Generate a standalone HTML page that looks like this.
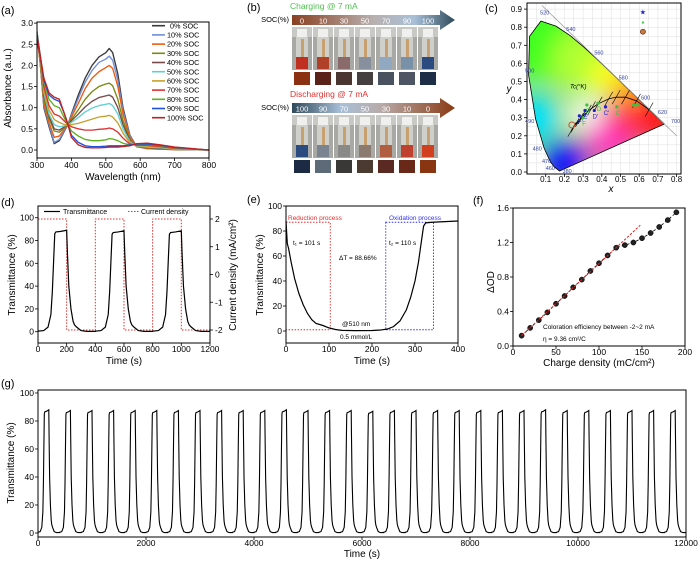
<!DOCTYPE html>
<html><head><meta charset="utf-8">
<style>
html,body{margin:0;padding:0;background:#fff;}
svg{display:block;font-family:"Liberation Sans",Arial,sans-serif;}
</style></head>
<body>
<svg id="fig" width="700" height="561" viewBox="0 0 700 561" xmlns="http://www.w3.org/2000/svg">
<defs>
<linearGradient id="gCharge" x1="0" x2="1" y1="0" y2="0">
<stop offset="0" stop-color="#8a4020"/><stop offset="0.5" stop-color="#b8b0b0"/><stop offset="0.75" stop-color="#a8c0d8"/><stop offset="1" stop-color="#2f4a5a"/></linearGradient>
<linearGradient id="gDis" x1="0" x2="1" y1="0" y2="0">
<stop offset="0" stop-color="#2f4a5a"/><stop offset="0.3" stop-color="#a8c0d8"/><stop offset="0.55" stop-color="#b8aaa8"/><stop offset="1" stop-color="#8a3a12"/></linearGradient>
<filter id="blur" x="-50%" y="-50%" width="200%" height="200%"><feGaussianBlur stdDeviation="12"/></filter>
<clipPath id="locusClip"><path id="locusClipPath" d=""/></clipPath>
</defs>
</svg>
<script>
// ---------- DATA ----------
const wl = [300,310,320,335,350,365,380,390,400,420,440,460,480,500,510,520,535,550,570,590,620,660,700,800];
const socLabels = ['0% SOC','10% SOC','20% SOC','30% SOC','40% SOC','50% SOC','60% SOC','70% SOC','80% SOC','90% SOC','100% SOC'];
const soc0 = [2.8,2.0,1.0,0.55,0.15,0.22,0.45,0.6,0.85,1.3,1.7,2.0,2.2,2.3,2.4,2.3,1.8,1.0,0.35,0.08,0.03,0.02,0.01,0];
const soc10 = [2.8,2.0,1.05,0.6,0.18,0.25,0.47,0.6,0.82,1.22,1.6,1.88,2.07,2.15,2.22,2.12,1.65,0.93,0.33,0.08,0.03,0.02,0.01,0];
const soc20 = [2.75,2.0,1.1,0.65,0.3,0.33,0.5,0.6,0.78,1.1,1.45,1.7,1.85,1.95,2.0,1.93,1.5,0.85,0.3,0.08,0.04,0.03,0.01,0];
const soc30 = [2.7,2.0,1.2,0.75,0.45,0.42,0.53,0.6,0.72,0.95,1.2,1.38,1.5,1.56,1.58,1.52,1.2,0.7,0.25,0.08,0.05,0.03,0.01,0];
const soc40 = [2.7,2.1,1.3,0.8,0.5,0.47,0.55,0.6,0.69,0.85,1.02,1.15,1.24,1.28,1.3,1.25,1.0,0.6,0.22,0.08,0.06,0.04,0.015,0];
const soc50 = [2.7,2.1,1.35,0.85,0.6,0.55,0.57,0.6,0.65,0.77,0.9,0.99,1.05,1.08,1.1,1.05,0.85,0.5,0.2,0.09,0.07,0.05,0.02,0];
const soc60 = [2.65,2.1,1.4,0.95,0.72,0.65,0.6,0.6,0.6,0.63,0.68,0.73,0.78,0.8,0.82,0.78,0.64,0.4,0.17,0.1,0.09,0.06,0.03,0];
const soc70 = [2.6,2.15,1.5,1.05,0.85,0.8,0.68,0.6,0.55,0.5,0.47,0.47,0.49,0.5,0.52,0.5,0.42,0.28,0.14,0.11,0.11,0.08,0.04,0];
const soc80 = [2.8,2.2,1.6,1.2,1.05,1.0,0.75,0.6,0.45,0.33,0.25,0.22,0.22,0.24,0.27,0.26,0.22,0.16,0.12,0.13,0.13,0.1,0.05,0];
const soc90 = [2.75,2.2,1.65,1.3,1.2,1.15,0.85,0.6,0.35,0.18,0.1,0.08,0.08,0.09,0.1,0.1,0.1,0.1,0.12,0.14,0.14,0.11,0.06,0];
const soc100 = [2.7,2.2,1.7,1.35,1.25,1.2,0.85,0.6,0.3,0.12,0.06,0.05,0.05,0.06,0.07,0.07,0.07,0.08,0.1,0.15,0.16,0.12,0.07,0];
const socColors = ['#3a3a3a','#6f8fd8','#f05a10','#7a8a10','#7a4a4a','#60d0d0','#c8a030','#e03030','#60b020','#2050e0','#c02020'];

// panel d: one cycle template (time within cycle, transmittance)
const cycT = [0,40,70,90,100,110,117,125,160,200,205,215,230,245,255,270,300,340,400];
const cycV = [0.5,1,4,15,35,65,86,87.5,88,89,70,40,20,9,6,4,1,0.3,0.3];
const dCycleStarts = [0,400,800];
const dPeaks = [89,88.5,88.5];
const curT = [0,200,200,400,400,600,600,800,800,1000,1000,1200];
const curV = [2,2,-2,-2,2,2,-2,-2,2,2,-2,-2];

// panel e
const eT = [0,3,6,12,20,30,40,50,60,70,85,100,115,130,160,200,220,235,250,265,280,290,300,308,315,320,325,340,370,400];
const eV = [88,70,66,55,42,30,21,14,9,6,4.5,2.5,1.2,0.5,0.3,0.4,0.8,1.5,3.5,8,17,27,40,55,72,84,86.5,87,87.5,88];

// panel f
const fX = [10,20,30,40,50,60,70,80,90,100,110,120,130,140,150,160,170,180,190];
const fY = [0.12,0.21,0.30,0.39,0.49,0.58,0.68,0.77,0.87,0.96,1.05,1.14,1.17,1.20,1.25,1.31,1.38,1.46,1.55];
const fitX = [10,148];
const fitY = [0.12,1.40];

// panel g: 30 cycles
const gCycleStarts = [0,400,800,1200,1600,2000,2400,2800,3200,3600,4000,4400,4800,5200,5600,6000,6400,6800,7200,7600,8000,8400,8800,9200,9600,10000,10400,10800,11200,11600];
const gPeaks = [88,87.5,87.5,87.5,87.5,87.5,87.5,87.5,87.5,87.5,87.5,88,87.5,87.5,87.5,87,87.5,87.5,87.5,87.5,87.5,87.5,87.5,88,87.5,87.5,87.5,87.5,87.5,87.5];

// panel c (CIE)
const locusX = [0.1741,0.1440,0.1241,0.0913,0.0454,0.0082,0.0139,0.0743,0.1547,0.2296,0.3016,0.3731,0.4441,0.5125,0.5752,0.6270,0.6915,0.7347];
const locusY = [0.0050,0.0297,0.0578,0.1327,0.2950,0.5384,0.7502,0.8338,0.8059,0.7543,0.6923,0.6245,0.5547,0.4866,0.4242,0.3725,0.3083,0.2653];
const planckX = [0.6528,0.5857,0.5267,0.4770,0.4369,0.3805,0.3451,0.3221,0.2952,0.2807,0.2565,0.2399];
const planckY = [0.3444,0.3931,0.4133,0.4137,0.4041,0.3768,0.3516,0.3318,0.3048,0.2883,0.2577,0.2342];

// panel b swatches
const chargeNums = ['0','10','30','50','70','90','100'];
const chargeSw = ['#8b3010','#5a2218','#4a3530','#45403f','#4a5260','#4e5666','#1f2e47'];
const chargeLiq = ['#c03020','#b04028','#8a6a6a','#8890a0','#90a8c0','#7890a8','#2a4a80'];
const disNums = ['100','90','70','50','30','10','0'];
const disSw = ['#1d2a44','#5d6a78','#3a3836','#4a3a30','#5a2a22','#6a2818','#8a3512'];
const disLiq = ['#2a4a80','#7a8490','#8a8a88','#8a7a70','#b06040','#c04030','#d04020'];

// ---------- HELPERS ----------
const NS='http://www.w3.org/2000/svg';
const svg=document.getElementById('fig');
function el(tag,attrs,parent){const e=document.createElementNS(NS,tag);for(const k in attrs)e.setAttribute(k,attrs[k]);(parent||svg).appendChild(e);return e;}
function tx(x,y,s,size,anchor,parent,extra){const t=el('text',Object.assign({x:x,y:y,'font-size':size,'text-anchor':anchor||'start',fill:'#000'},extra||{}),parent);t.textContent=s;return t;}
function grp(name){const g=el('g',{});return g;}
function poly(xs,ys,fx,fy){return xs.map((v,i)=>(i?'L':'M')+fx(v).toFixed(2)+','+fy(ys[i]).toFixed(2)).join('');}
function frame(g,L,T,R,B){const r=el('rect',{x:L,y:T,width:R-L,height:B-T,fill:'none',stroke:'#000','stroke-width':1},g);}
function xTicks(g,vals,fx,B,ly,size){vals.forEach(v=>{const x=fx(v);const l=el('line',{x1:x,x2:x,y1:B,y2:B+3,stroke:'#000','stroke-width':0.8},g);const t=tx(x,ly,String(v),size||8.5,'middle',g);});}
function yTicks(g,vals,labels,fy,L,lx,size){vals.forEach((v,i)=>{const y=fy(v);const l=el('line',{x1:L-3,x2:L,y1:y,y2:y,stroke:'#000','stroke-width':0.8},g);const t=tx(lx,y+3,labels[i],size||8.5,'end',g);});}
function vTitle(g,x,y,s,size){const t=tx(0,0,s,size||10,'middle',g,{transform:'translate('+x+','+y+') rotate(-90)'});return t;}
function panelLabel(x,y,s){const t=tx(x,y,s,11,'start');}

// ---------- PANEL A ----------
(function(){
const g=grp('panel-a-absorbance');
const L=37,R=209,T=22,B=158;
const fx=v=>L+(v-300)*(R-L)/500, fy=v=>150-v*42.3;
const series=[soc0,soc10,soc20,soc30,soc40,soc50,soc60,soc70,soc80,soc90,soc100];
const clip=el('clipPath',{id:'clipA'},g);el('rect',{x:L,y:T,width:R-L,height:B-T},clip);
const cg=el('g',{'clip-path':'url(#clipA)'},g);
series.forEach((s,i)=>{const p=el('path',{d:poly(wl,s,fx,fy),fill:'none',stroke:socColors[i],'stroke-width':1.35,'stroke-linejoin':'round'},cg);});
frame(g,L,T,R,B);
xTicks(g,[300,400,500,600,700,800],fx,B,168);
yTicks(g,[0,0.5,1,1.5,2,2.5,3],['0.0','0.5','1.0','1.5','2.0','2.5','3.0'],fy,L,33);
const xt=tx((L+R)/2,180,'Wavelength (nm)',10,'middle',g);
vTitle(g,11,88,'Absorbance (a.u.)');
socLabels.forEach((s,i)=>{const y=25.7+9.2*i;const lg=el('g',{},g);el('line',{x1:152,x2:165,y1:y,y2:y,stroke:socColors[i],'stroke-width':1.6},lg);tx(i==0?170:167,y+2.6,s,7.3,'start',lg);});
})();
panelLabel(1,14,'(a)');

// ---------- PANEL B ----------
(function(){
const g=grp('panel-b-photos');
const cols=[292,313,334,355,376,397,418];
function row(y0,title,titleColor,grad,nums,liq,sw,prefix){
 const t=tx(290,y0+4,title,8.5,'start',g,{fill:titleColor});
 const s=tx(289,y0+17,'SOC(%)',7.5,'end',g);
 const ar=el('path',{d:'M292,'+(y0+10)+'H440V'+(y0+5)+'L455,'+(y0+15)+'L440,'+(y0+25)+'V'+(y0+20)+'H292Z',fill:'url(#'+grad+')'},g);
 nums.forEach((n,i)=>{tx(cols[i]+10,y0+18.5,n,7.5,'middle',g,{fill:'#fff'});});
 const py=y0+22, ph=43;
 cols.forEach((x,i)=>{const pg=el('g',{},g);
  el('rect',{x:x,y:py,width:20,height:ph,fill:'#a8a8a4'},pg);
  el('rect',{x:x,y:py,width:20,height:10,fill:'#c8c8c4'},pg);
  el('rect',{x:x+5,y:py+2,width:10,height:8,fill:'#f0f0ee'},pg);
  el('rect',{x:x+4,y:py+10,width:12,height:32,fill:'#d8d8d6',opacity:0.8},pg);
  el('rect',{x:x+9,y:py+12,width:3,height:24,fill:'#c8a070'},pg);
  el('rect',{x:x+4,y:py+30,width:12,height:12,fill:liq[i]},pg);
  const sq=el('rect',{x:x+2,y:y0+67,width:16,height:13,fill:sw[i]},g);});
}
row(5,'Charging @ 7 mA','#50c050','gCharge',chargeNums,chargeLiq,chargeSw,'charging');
row(93,'Discharging @ 7 mA','#e03030','gDis',disNums,disLiq,disSw,'discharging');
})();
panelLabel(247,11,'(b)');

// ---------- PANEL C ----------
(function(){
const g=grp('panel-c-cie');
const fx=v=>527+v*187, fy=v=>172-v*181;
const L=527,R=681,T=3,B=174;
for(let v=0.05;v<0.82;v+=0.05){el('line',{x1:fx(v),x2:fx(v),y1:T,y2:B,stroke:'#ddd','stroke-width':0.5},g);}
for(let v=0.05;v<0.93;v+=0.05){el('line',{x1:L,x2:R,y1:fy(v),y2:fy(v),stroke:'#ddd','stroke-width':0.5},g);}
const d=poly(locusX,locusY,fx,fy)+'Z';
document.getElementById('locusClipPath').setAttribute('d',d);
const cg=el('g',{'clip-path':'url(#locusClip)'},g);
el('rect',{x:520,y:0,width:170,height:180,fill:'#a0e070'},cg);
const blobs=[[0.08,0.75,45,'#40ff20'],[0.3,0.62,32,'#b0ff30'],[0.45,0.52,22,'#ffff20'],[0.55,0.42,20,'#ff9a10'],[0.68,0.3,26,'#ff0a0a'],[0.45,0.2,28,'#ff30c0'],[0.2,0.05,24,'#1010ff'],[0.05,0.3,24,'#00e0ff'],[0.31,0.32,16,'#ffffff'],[0.55,0.28,16,'#ff3040']];
const bg=el('g',{filter:'url(#blur)'},cg);
blobs.forEach(b=>el('circle',{cx:fx(b[0]),cy:fy(b[1]),r:b[2],fill:b[3]},bg));
const lo=el('path',{d:d,fill:'none',stroke:'#000','stroke-width':0.8},g);
el('line',{x1:fx(0.08),y1:fy(0.92),x2:fx(0.8),y2:fy(0.2),stroke:'#999','stroke-width':0.7},g);
const pl=el('path',{d:poly(planckX,planckY,fx,fy),fill:'none',stroke:'#000','stroke-width':0.8},g);
planckX.forEach((x,i)=>{el('line',{x1:fx(x)-4,y1:fy(planckY[i])+7,x2:fx(x)+4,y2:fy(planckY[i])-7,stroke:'#000','stroke-width':0.6},g);});
frame(g,L,T,R,B);
xTicks(g,[0.1,0.2,0.3,0.4,0.5,0.6,0.7,0.8],fx,B,182,8);
yTicks(g,[0,0.1,0.2,0.3,0.4,0.5,0.6,0.7,0.8,0.9],['0.0','0.1','0.2','0.3','0.4','0.5','0.6','0.7','0.8','0.9'],fy,L,522,8);
tx(611,192,'x',10,'middle',g,{'font-style':'italic'});
tx(509,92,'y',10,'middle',g,{'font-style':'italic'});
const wls=[['520',0.07,0.87],['540',0.21,0.78],['560',0.36,0.65],['580',0.49,0.51],['600',0.61,0.4],['620',0.7,0.32],['700',0.77,0.27],['500',-0.01,0.55],['490',-0.01,0.27],['480',0.03,0.12],['470',0.08,0.05],['460',0.1,0.01],['380',0.19,-0.005]];
wls.forEach(w=>{const t=tx(fx(w[1]),fy(w[2]),w[0],5.5,'start',g,{fill:'#3040a0'});});
tx(fx(0.23),fy(0.46),'Tc(°K)',6,'start',g,{'font-style':'italic'});
const pts=[['A',0.59,0.37,'#40c040'],['B',0.57,0.37,'#40c040'],['C',0.48,0.36,'#40c040'],["C'",0.42,0.36,'#2020d0'],["D'",0.36,0.34,'#2020d0'],['D',0.38,0.38,'#40c040'],['E',0.32,0.37,'#40c040'],["E'",0.31,0.34,'#2020d0'],["F'",0.28,0.31,'#2020d0'],['F',0.3,0.3,'#40c040']];
pts.forEach(p=>{const m=el('circle',{cx:fx(p[1]),cy:fy(p[2]),r:1.6,fill:p[3]},g);tx(fx(p[1])+1,fy(p[2])+8,p[0],6,'middle',g,{fill:p[0].includes("'")?'#2020d0':(p[0]=='A'||p[0]=='B'?'#ff6040':'#40c040')});});
el('circle',{cx:fx(0.24),cy:fy(0.26),r:3,fill:'none',stroke:'#c05030','stroke-width':1},g);
tx(fx(0.62),fy(0.87),'★',7,'middle',g,{fill:'#2020c0'});
tx(fx(0.62),fy(0.82),'▲',5,'middle',g,{fill:'#40c040'});
el('circle',{cx:fx(0.62),cy:fy(0.775),r:2.5,fill:'#c08040',stroke:'#803020','stroke-width':0.8},g);
})();
panelLabel(485,12,'(c)');

// ---------- PANEL D ----------
(function(){
const g=grp('panel-d-transmittance-current');
const L=38,R=210,T=206,B=343;
const fx=t=>L+t*0.1433, fy=v=>331.7-v*1.14, fc=c=>274.5-c*27.75;
let xs=[],ys=[];
dCycleStarts.forEach((s,k)=>{cycT.forEach((t,i)=>{xs.push(s+t);ys.push(cycV[i]>80?cycV[i]-89+dPeaks[k]:cycV[i]);});});
const cur=el('path',{d:poly(curT,curV,fx,fc),fill:'none',stroke:'#e03030','stroke-width':1,'stroke-dasharray':'1.5,1.5'},g);
const p=el('path',{d:poly(xs,ys,fx,fy),fill:'none',stroke:'#000','stroke-width':1.2},g);
frame(g,L,T,R,B);
xTicks(g,[0,200,400,600,800,1000,1200],fx,B,352);
yTicks(g,[0,20,40,60,80,100],['0','20','40','60','80','100'],fy,L,34);
[-2,-1,0,1,2].forEach(c=>{el('line',{x1:R,x2:R+3,y1:fc(c),y2:fc(c),stroke:'#000','stroke-width':0.8},g);const t=tx(R+5,fc(c)+3,String(c),8.5,'start',g);});
const xt=tx((L+R)/2,364,'Time (s)',10,'middle',g);
vTitle(g,15,275,'Transmittance (%)');
const rt=tx(0,0,'Current density (mA/cm²)',10,'middle',g,{transform:'translate(236,275) rotate(-90)'});
const lg=el('g',{},g);
el('line',{x1:44,x2:60,y1:211.5,y2:211.5,stroke:'#000','stroke-width':1.2},lg);tx(63,214,'Transmittance',7,'start',lg);
el('line',{x1:128,x2:140,y1:211.5,y2:211.5,stroke:'#e03030','stroke-width':1,'stroke-dasharray':'1.5,1.5'},lg);tx(141,214,'Current density',7,'start',lg);
})();
panelLabel(1,206,'(d)');

// ---------- PANEL E ----------
(function(){
const g=grp('panel-e-switching');
const L=286,R=458,T=206,B=343;
const fx=t=>L+t*0.43, fy=v=>331-v*1.25;
const r1=el('rect',{x:fx(0),y:fy(87),width:fx(103)-fx(0),height:fy(1)-fy(87),fill:'none',stroke:'#e03030','stroke-width':0.9,'stroke-dasharray':'1.5,1.5'},g);
const r2=el('rect',{x:fx(232),y:fy(87),width:fx(343)-fx(232),height:fy(1)-fy(87),fill:'none',stroke:'#3030f0','stroke-width':0.9,'stroke-dasharray':'1.5,1.5'},g);
const p=el('path',{d:poly(eT,eV,fx,fy),fill:'none',stroke:'#000','stroke-width':1.2},g);
frame(g,L,T,R,B);
xTicks(g,[0,100,200,300,400],fx,B,352);
yTicks(g,[0,20,40,60,80,100],['0','20','40','60','80','100'],fy,L,282);
const xt=tx((L+R)/2,364,'Time (s)',10,'middle',g);
vTitle(g,263,275,'Transmittance (%)');
tx(288,220,'Reduction  process',6.5,'start',g,{fill:'#e03030'});
tx(389,220,'Oxidation process',6.5,'start',g,{fill:'#3030f0'});
tx(293,245,'t₁ = 101 s',6.5,'start',g);
tx(389,245,'t₂ = 110 s',6.5,'start',g);
tx(339,260,'ΔT = 88.66%',6.5,'start',g);
tx(342,326,'@510 nm',6.5,'start',g);
tx(340,339,'0.5 mmol/L',6.5,'start',g);
})();
panelLabel(247,203,'(e)');

// ---------- PANEL F ----------
(function(){
const g=grp('panel-f-coloration');
const L=513,R=685,T=208,B=346;
const fx=v=>L+v*0.86, fy=v=>B-v*86.25;
const ln=el('path',{d:poly(fX,fY,fx,fy),fill:'none',stroke:'#000','stroke-width':0.8,'stroke-dasharray':'3,2'},g);
fX.forEach((x,i)=>{const c=el('circle',{cx:fx(x),cy:fy(fY[i]),r:2.6,fill:'#222',stroke:'#000','stroke-width':0.5},g);});
const fit=el('path',{d:poly(fitX,fitY,fx,fy),fill:'none',stroke:'#e02020','stroke-width':1,'stroke-dasharray':'2.5,1.5'},g);
frame(g,L,T,R,B);
xTicks(g,[0,50,100,150,200],fx,B,355);
yTicks(g,[0,0.4,0.8,1.2,1.6],['0.0','0.4','0.8','1.2','1.6'],fy,L,509);
const xt=tx((L+R)/2,366,'Charge density (mC/cm²)',10,'middle',g);
vTitle(g,494,282,'ΔOD');
tx(543,329,'Coloration efficiency between -2~2 mA',6.5,'start',g);
tx(543,341,'η = 9.36 cm²/C',6.5,'start',g);
})();
panelLabel(473,204,'(f)');

// ---------- PANEL G ----------
(function(){
const g=grp('panel-g-cycling');
const L=38,R=686,T=390,B=537;
const fx=t=>L+t*0.054, fy=v=>533-v*1.4;
let xs=[],ys=[];
gCycleStarts.forEach((s,k)=>{cycT.forEach((t,i)=>{xs.push(s+t);ys.push(cycV[i]>80?cycV[i]-89+gPeaks[k]:cycV[i]);});});
const p=el('path',{d:poly(xs,ys,fx,fy),fill:'none',stroke:'#000','stroke-width':1.1},g);
frame(g,L,T,R,B);
xTicks(g,[0,2000,4000,6000,8000,10000,12000],fx,B,546);
yTicks(g,[0,20,40,60,80,100],['0','20','40','60','80','100'],fy,L,34);
const xt=tx((L+R)/2,557,'Time (s)',10,'middle',g);
vTitle(g,14,463,'Transmittance (%)');
})();
panelLabel(1,387,'(g)');
</script>
</body></html>
